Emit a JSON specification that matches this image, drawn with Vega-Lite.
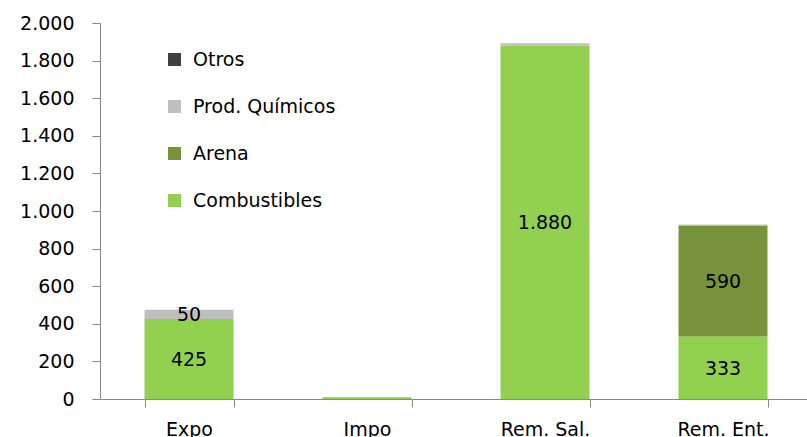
{
  "$schema": "https://vega.github.io/schema/vega-lite/v6.json",
  "width": 707,
  "height": 376,
  "autosize": "none",
  "padding": {"left": 100, "top": 23, "right": 0, "bottom": 38},
  "config": {
    "view": {"stroke": null},
    "font": "DejaVu Sans",
    "locale": {"number": {"decimal": ",", "thousands": ".", "grouping": [3], "currency": ["", " €"]}},
    "axisY": {
      "title": null, "values": [0, 200, 400, 600, 800, 1000, 1200, 1400, 1600, 1800, 2000],
      "format": ",.0f", "labelFontSize": 19, "labelColor": "#000000", "labelOverlap": false,
      "domainColor": "#888888", "tickColor": "#888888", "tickSize": 8,
      "labelPadding": 18, "grid": false
    }
  },
  "data": {
    "values": [
      {"cat": "Expo", "serie": "Combustibles", "ord": 1, "value": 425},
      {"cat": "Expo", "serie": "Prod. Químicos", "ord": 3, "value": 50},
      {"cat": "Impo", "serie": "Combustibles", "ord": 1, "value": 5},
      {"cat": "Impo", "serie": "Prod. Químicos", "ord": 3, "value": 5},
      {"cat": "Rem. Sal.", "serie": "Combustibles", "ord": 1, "value": 1880},
      {"cat": "Rem. Sal.", "serie": "Prod. Químicos", "ord": 3, "value": 12},
      {"cat": "Rem. Ent.", "serie": "Combustibles", "ord": 1, "value": 333},
      {"cat": "Rem. Ent.", "serie": "Arena", "ord": 2, "value": 590},
      {"cat": "Rem. Ent.", "serie": "Prod. Químicos", "ord": 3, "value": 5}
    ]
  },
  "transform": [
    {"stack": "value", "groupby": ["cat"], "sort": [{"field": "ord", "order": "ascending"}], "as": ["v0", "v1"]}
  ],
  "encoding": {
    "x": {
      "field": "cat", "type": "nominal",
      "sort": ["Expo", "Impo", "Rem. Sal.", "Rem. Ent."],
      "scale": {"range": [0, 712], "paddingInner": 0.5, "paddingOuter": 0.25},
      "axis": {
        "title": null, "labelAngle": 0, "labelFontSize": 19, "labelColor": "#000000",
        "domainColor": "#888888", "tickColor": "#888888", "tickSize": 8, "tickBand": "extent",
        "labelPadding": 13, "grid": false
      }
    }
  },
  "layer": [
    {
      "mark": {"type": "bar"},
      "encoding": {
        "y": {
          "field": "v0", "type": "quantitative",
          "scale": {"domain": [0, 2000]}
        },
        "y2": {"field": "v1"},
        "color": {
          "field": "serie", "type": "nominal",
          "scale": {
            "domain": ["Otros", "Prod. Químicos", "Arena", "Combustibles"],
            "range": ["#404040", "#BFBFBF", "#77933C", "#92D050"]
          },
          "legend": {
            "title": null, "orient": "none", "legendX": 65, "legendY": 27,
            "symbolType": "square", "symbolSize": 169, "symbolStrokeWidth": 0,
            "labelFontSize": 19, "labelColor": "#000000", "labelOffset": 9, "rowPadding": 27
          }
        }
      }
    },
    {
      "transform": [
        {"filter": "datum.value >= 50"},
        {"calculate": "(datum.v0 + datum.v1) / 2", "as": "mid"}
      ],
      "mark": {"type": "text", "fontSize": 19, "color": "#000000", "baseline": "middle", "dy": 1},
      "encoding": {
        "y": {"field": "mid", "type": "quantitative"},
        "text": {"field": "value", "type": "quantitative", "format": ",.0f"}
      }
    }
  ]
}
